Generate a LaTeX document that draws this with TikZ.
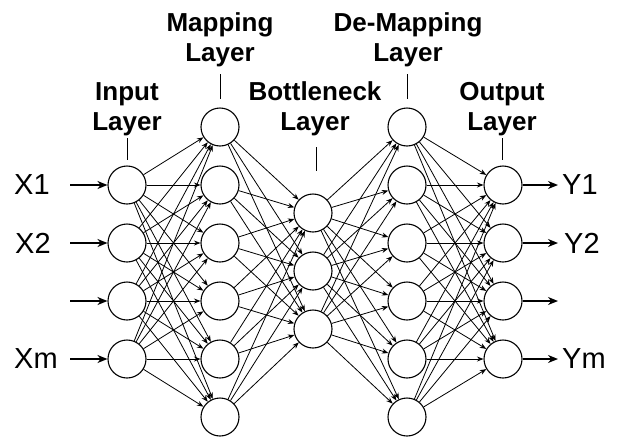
\documentclass[tikz,border=0pt]{standalone}
\usepackage{fontspec}
\setmainfont{Liberation Sans}
\usetikzlibrary{arrows.meta}
\begin{document}
\begin{tikzpicture}[x=1pt,y=-1pt,
  neuron/.style={circle,draw,line width=1.1pt,minimum size=38pt,inner sep=0pt,fill=white},
  conn/.style={line width=0.8pt,-{Stealth[length=6.5pt,width=5pt]}},
  io/.style={line width=1.8pt,-{Stealth[length=10pt,width=8pt]}},
  lbl/.style={font=\fontsize{26}{30}\selectfont\bfseries,align=center},
  iolbl/.style={font=\fontsize{29}{32}\selectfont,inner sep=0pt},
  tick/.style={line width=1pt}]
\useasboundingbox (0,0) rectangle (619,437);
% nodes
\foreach \i/\y in {1/185,2/243,3/301,4/359}{
  \node[neuron] (in\i) at (127,\y) {};
  \node[neuron] (out\i) at (503,\y) {};
}
\foreach \i/\y in {1/127,2/185,3/243,4/301,5/359,6/417}{
  \node[neuron] (map\i) at (220,\y) {};
  \node[neuron] (dem\i) at (407,\y) {};
}
\foreach \i/\y in {1/213,2/271,3/329}{
  \node[neuron] (bot\i) at (313,\y) {};
}
% connections
\foreach \a in {1,...,4}{\foreach \b in {1,...,6}{\draw[conn] (in\a) -- (map\b);}}
\foreach \a in {1,...,6}{\foreach \b in {1,...,3}{\draw[conn] (map\a) -- (bot\b);}}
\foreach \a in {1,...,3}{\foreach \b in {1,...,6}{\draw[conn] (bot\a) -- (dem\b);}}
\foreach \a in {1,...,6}{\foreach \b in {1,...,4}{\draw[conn] (dem\a) -- (out\b);}}
% inputs / outputs
\foreach \i/\y in {1/185,2/243,3/301,4/359}{
  \coordinate (xs\i) at (70,\y);
  \coordinate (ye\i) at (558,\y);
  \draw[io] (xs\i) -- (in\i);
  \draw[io] (out\i) -- (ye\i);
}
\node[iolbl,anchor=west] (x1) at (14,185) {X1};
\node[iolbl,anchor=west] (x2) at (15,243) {X2};
\node[iolbl,anchor=west] (xm) at (14,359) {Xm};
\node[iolbl,anchor=west] (y1) at (562,185) {Y1};
\node[iolbl,anchor=west] (y2) at (564,243) {Y2};
\node[iolbl,anchor=west] (ym) at (562,359) {Ym};
% layer labels
\node[lbl] (lin) at (127,109) {Input\\Layer};
\node[lbl] (lmap) at (220,40) {Mapping\\Layer};
\node[lbl] (lbot) at (315,109) {Bottleneck\\Layer};
\node[lbl] (ldem) at (408,40) {De-Mapping\\Layer};
\node[lbl] (lout) at (502,109) {Output\\Layer};
\coordinate (tin) at (127,160);
\coordinate (tmap) at (220,99);
\coordinate (tbot) at (316,171);
\coordinate (tdem) at (407,99);
\coordinate (tout) at (502,160);
\draw[tick] (127,138) -- (tin);
\draw[tick] (220,74) -- (tmap);
\draw[tick] (316,147) -- (tbot);
\draw[tick] (407,74) -- (tdem);
\draw[tick] (502,138) -- (tout);
\end{tikzpicture}
\end{document}
